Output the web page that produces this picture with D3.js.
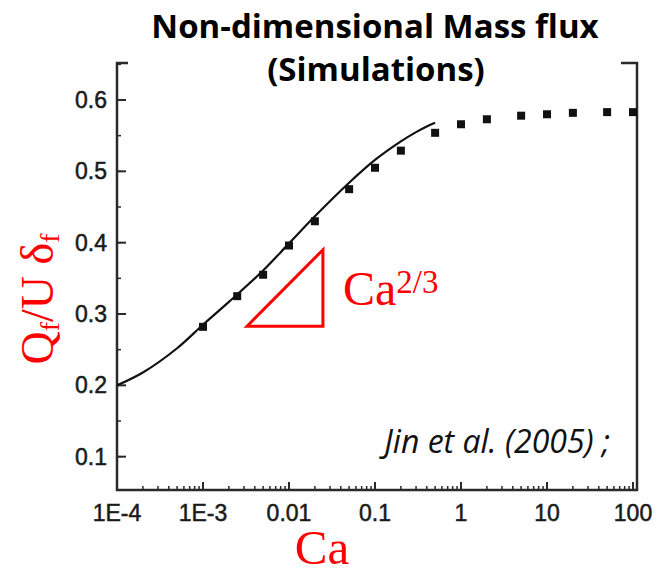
<!DOCTYPE html>
<html>
<head>
<meta charset="utf-8">
<script src="https://cdn.jsdelivr.net/npm/d3@7"></script>
<style>
    body { margin: 0; background: #fff; }
    svg { display: block; }
</style>
</head>
<body>
<svg width="664" height="575"></svg>
<script>
// simulation points (squares)
const simCa = [0.001, 0.0025, 0.005, 0.01, 0.02, 0.05, 0.1, 0.2, 0.5, 1, 2, 5, 10, 20, 50, 100];
const simQ = [0.282, 0.325, 0.355, 0.396, 0.430, 0.475, 0.505, 0.529, 0.554, 0.566, 0.573, 0.578, 0.580, 0.582, 0.583, 0.583];

// theory curve (solid line)
const lineCa = [0.0001, 0.0002, 0.0005, 0.001, 0.002, 0.005, 0.01, 0.02, 0.05, 0.1, 0.2, 0.3, 0.4, 0.5];
const lineQ = [0.200, 0.218, 0.252, 0.285, 0.317, 0.361, 0.399, 0.437, 0.484, 0.516, 0.542, 0.555, 0.563, 0.568];

// slope triangle, in data units
const triCa = [0.00325, 0.0248, 0.0248];
const triQ = [0.283, 0.283, 0.390];

const xTickValues = [1e-4, 1e-3, 1e-2, 1e-1, 1, 10, 100];
const xTickLabels = ["1E-4", "1E-3", "0.01", "0.1", "1", "10", "100"];
const yTickValues = [0.1, 0.2, 0.3, 0.4, 0.5, 0.6];
const yTickLabels = ["0.1", "0.2", "0.3", "0.4", "0.5", "0.6"];

const svg = d3.select("svg");

const plotLeft = 117, plotRight = 633, plotBottom = 490, plotTop = 63;

const x = d3.scaleLog().domain([1e-4, 100]).range([plotLeft, plotRight]);
const y = d3.scaleLinear().domain([0, 0.6]).range([528, 100]);

const axisColor = "#2a2a2a";
const red = "#ff0000";

// frame: left, bottom, right, plus the two little stubs at the top
svg.append("path")
    .attr("d", `M${plotLeft + 11},${plotTop} H${plotLeft} V${plotBottom} H${plotRight + 4} V${plotTop} H${plotRight - 12}`)
    .attr("stroke", axisColor)
    .attr("stroke-width", 2.5)
    .attr("fill", "none");

// x ticks (inward)
const minorX = [];
for (let e = -4; e < 2; e++) {
    for (let m = 2; m < 10; m++) minorX.push(m * Math.pow(10, e));
}
const xAxis = svg.append("g").attr("stroke", axisColor);
xAxis.selectAll(".major")
    .data(xTickValues)
    .join("line")
    .attr("class", "major")
    .attr("x1", d => x(d)).attr("x2", d => x(d))
    .attr("y1", plotBottom).attr("y2", plotBottom - 8)
    .attr("stroke-width", 2);
xAxis.selectAll(".minor")
    .data(minorX)
    .join("line")
    .attr("class", "minor")
    .attr("x1", d => x(d)).attr("x2", d => x(d))
    .attr("y1", plotBottom).attr("y2", plotBottom - 4)
    .attr("stroke-width", 1.5);

svg.append("g")
    .selectAll("text")
    .data(xTickValues)
    .join("text")
    .attr("x", d => x(d))
    .attr("y", 521)
    .attr("text-anchor", "middle")
    .attr("font-family", "Liberation Sans, Arial, sans-serif")
    .attr("font-size", 23)
    .attr("fill", "#1a1a1a")
    .attr("stroke", "#1a1a1a")
    .attr("stroke-width", 0.5)
    .text((d, i) => xTickLabels[i]);

// y ticks (inward)
const minorY = d3.range(0.1, 0.66, 0.05);
const yAxis = svg.append("g").attr("stroke", axisColor);
yAxis.selectAll(".minor")
    .data(minorY)
    .join("line")
    .attr("class", "minor")
    .attr("x1", plotLeft).attr("x2", plotLeft + 4)
    .attr("y1", d => y(d)).attr("y2", d => y(d))
    .attr("stroke-width", 1.5);
yAxis.selectAll(".major")
    .data(yTickValues)
    .join("line")
    .attr("class", "major")
    .attr("x1", plotLeft).attr("x2", plotLeft + 9)
    .attr("y1", d => y(d)).attr("y2", d => y(d))
    .attr("stroke-width", 2);

svg.append("g")
    .selectAll("text")
    .data(yTickValues)
    .join("text")
    .attr("x", 107)
    .attr("y", d => y(d) + 8)
    .attr("text-anchor", "end")
    .attr("font-family", "Liberation Sans, Arial, sans-serif")
    .attr("font-size", 23)
    .attr("fill", "#1a1a1a")
    .attr("stroke", "#1a1a1a")
    .attr("stroke-width", 0.5)
    .text((d, i) => yTickLabels[i]);

// theory line
const line = d3.line()
    .x(d => x(d[0]))
    .y(d => y(d[1]))
    .curve(d3.curveCatmullRom.alpha(0.5));

svg.append("path")
    .datum(d3.zip(lineCa, lineQ))
    .attr("d", line)
    .attr("fill", "none")
    .attr("stroke", "#111")
    .attr("stroke-width", 2.2);

// simulation squares
const sq = 8;
svg.append("g")
    .selectAll("rect")
    .data(d3.zip(simCa, simQ))
    .join("rect")
    .attr("x", d => x(d[0]) - sq / 2)
    .attr("y", d => y(d[1]) - sq / 2)
    .attr("width", sq)
    .attr("height", sq)
    .attr("fill", "#111");

// slope triangle
svg.append("path")
    .datum(d3.zip(triCa, triQ))
    .attr("d", d => "M" + d.map(p => [x(p[0]), y(p[1])].join(",")).join("L") + "Z")
    .attr("fill", "none")
    .attr("stroke", red)
    .attr("stroke-width", 3)
    .attr("stroke-linejoin", "miter");

const slopeLabel = svg.append("text")
    .attr("x", 343)
    .attr("y", 305)
    .attr("font-family", "Liberation Serif, Times New Roman, serif")
    .attr("font-size", 48)
    .attr("fill", red);
slopeLabel.append("tspan").text("Ca");
slopeLabel.append("tspan")
    .attr("dy", -12)
    .attr("font-size", 33)
    .text("2/3");

// axis titles
svg.append("text")
    .attr("x", 322)
    .attr("y", 564)
    .attr("text-anchor", "middle")
    .attr("font-family", "Liberation Serif, Times New Roman, serif")
    .attr("font-size", 49)
    .attr("fill", red)
    .text("Ca");

const yTitle = svg.append("text")
    .attr("transform", "translate(53,299) rotate(-90)")
    .attr("text-anchor", "middle")
    .attr("font-family", "Liberation Serif, Times New Roman, serif")
    .attr("font-size", 46)
    .attr("fill", red);
yTitle.append("tspan").text("Q");
yTitle.append("tspan").attr("font-size", 28).attr("dy", 6).text("f");
yTitle.append("tspan").attr("dy", -6).text("/U δ");
yTitle.append("tspan").attr("font-size", 28).attr("dy", 6).text("f");

// reference note
svg.append("text")
    .attr("x", 610)
    .attr("y", 453)
    .attr("text-anchor", "end")
    .attr("font-family", "Open Sans, sans-serif")
    .attr("font-style", "italic")
    .attr("font-size", 32)
    .attr("fill", "#111")
    .text("Jin et al. (2005) ;");

// title
const title = svg.append("text")
    .attr("text-anchor", "middle")
    .attr("font-family", "Open Sans, sans-serif")
    .attr("font-weight", 700)
    .attr("font-size", 33)
    .attr("fill", "#000");
title.append("tspan").attr("x", 375).attr("y", 38).text("Non-dimensional Mass flux");
title.append("tspan").attr("x", 376).attr("y", 81).text("(Simulations)");
</script>
</body>
</html>
